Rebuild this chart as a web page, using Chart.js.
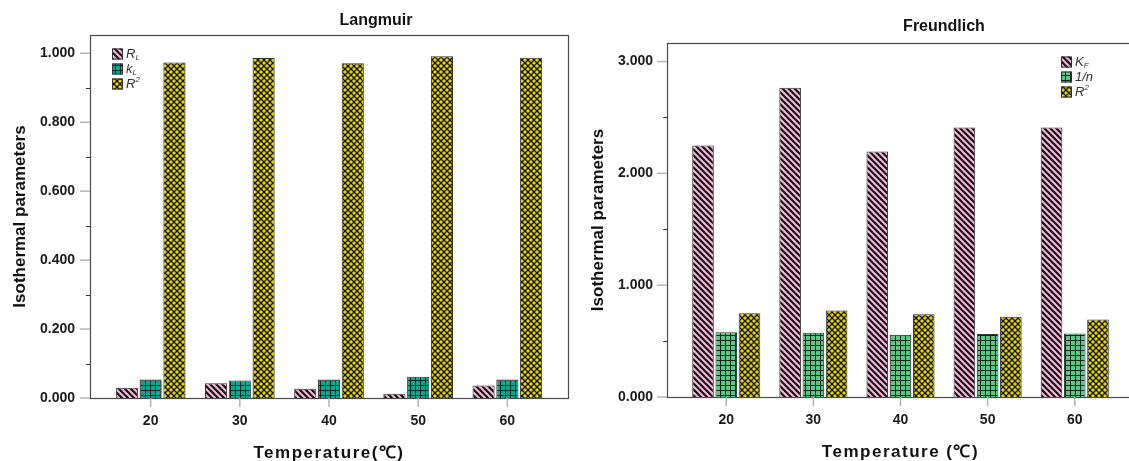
<!DOCTYPE html>
<html>
<head>
<meta charset="utf-8">
<script src="https://cdn.jsdelivr.net/npm/chart.js@4/dist/chart.umd.min.js"></script>
<style>
  html, body { margin: 0; padding: 0; background: #fff; overflow: hidden; width: 1129px; height: 461px; }
  canvas { position: absolute; top: 0; }
  #langmuir { left: 0; }
  #freundlich { left: 580px; }
</style>
</head>
<body>
<canvas id="langmuir" width="580" height="461"></canvas>
<canvas id="freundlich" width="560" height="461"></canvas>
<script>
const temperatures = [20, 30, 40, 50, 60];

// Langmuir
const langmuirRL = [0.030, 0.043, 0.027, 0.012, 0.036];
const langmuirKL = [0.054, 0.051, 0.054, 0.062, 0.054];
const langmuirR2 = [0.973, 0.986, 0.971, 0.991, 0.987];
const langmuirTicks = [0, 0.2, 0.4, 0.6, 0.8, 1.0];
const langmuirMinor = [0.1, 0.3, 0.5, 0.7, 0.9];
const langmuirLabels = [["R", "L", ""], ["k", "L", ""], ["R", "", "2"]];

// Freundlich
const freundlichKF = [2.25, 2.765, 2.196, 2.41, 2.41];
const freundlichN = [0.58, 0.574, 0.556, 0.563, 0.569];
const freundlichR2 = [0.75, 0.774, 0.741, 0.717, 0.694];
const freundlichTicks = [0, 1, 2, 3];
const freundlichMinor = [0.5, 1.5, 2.5];
const freundlichLabels = [["K", "F", ""], ["1/n", "", ""], ["R", "", "2"]];

const FONT = "'Liberation Sans', Arial, sans-serif";

/* ---------- fill patterns ---------- */
function makePattern(bg, kind) {
  const c = document.createElement("canvas");
  const s = kind === "grid" ? 5 : 6;
  c.width = s; c.height = s;
  const g = c.getContext("2d");
  g.fillStyle = bg;
  g.fillRect(0, 0, s, s);
  g.strokeStyle = "#151515";
  if (kind === "diag") {
    g.lineWidth = 2.2;
    for (let k = -1; k <= 1; k++) {
      g.beginPath();
      g.moveTo(k * s - 1, -1);
      g.lineTo(k * s + s + 1, s + 1);
      g.stroke();
    }
  } else if (kind === "grid") {
    g.fillStyle = "#14241b";
    g.fillRect(0, 0, s, 1);
    g.fillRect(0, 0, 1, s);
  } else {
    g.lineWidth = 1.3;
    for (let k = -1; k <= 1; k++) {
      g.beginPath();
      g.moveTo(k * s - 1, -1);
      g.lineTo(k * s + s + 1, s + 1);
      g.moveTo(k * s + s + 1, -1);
      g.lineTo(k * s - 1, s + 1);
      g.stroke();
    }
  }
  return g.createPattern(c, "repeat");
}

const pinkDiag = makePattern("#f5b9d9", "diag");
const tealGrid = makePattern("#00ab94", "grid");
const greenGrid = makePattern("#58c984", "grid");
const yellowCross = makePattern("#e4d400", "cross");

/* ---------- frame, ticks, titles, legend ---------- */
const decor = {
  id: "decor",
  beforeDatasetsDraw(chart, args, o) {
    const { ctx, chartArea: a, scales } = chart;
    const line = (x1, y1, x2, y2) => {
      ctx.beginPath(); ctx.moveTo(x1, y1); ctx.lineTo(x2, y2); ctx.stroke();
    };
    ctx.save();
    ctx.strokeStyle = "#4a4a4a";
    ctx.lineWidth = 1.2;
    ctx.strokeRect(a.left + 0.5, a.top + 0.5, a.right - a.left, a.bottom - a.top);

    ctx.strokeStyle = "#b4b4b4";
    ctx.lineWidth = 1.5;
    scales.y.ticks.forEach((t) => {
      const y = scales.y.getPixelForValue(t.value);
      line(a.left - 10, y, a.left, y);
    });
    scales.x.ticks.forEach((t) => {
      const x = scales.x.getPixelForValue(t.value);
      line(x, a.bottom, x, a.bottom + 9);
    });

    ctx.strokeStyle = "#333";
    ctx.lineWidth = 1;
    o.minor.forEach((v) => {
      const y = Math.round(scales.y.getPixelForValue(v)) + 0.5;
      line(a.left - 4, y, a.left, y);
    });
    ctx.restore();
  },
  afterDraw(chart, args, o) {
    const { ctx, chartArea: a } = chart;
    ctx.save();
    ctx.fillStyle = "#111";
    ctx.textAlign = "center";
    ctx.textBaseline = "middle";

    ctx.font = "bold 16px " + FONT;
    ctx.fillText(o.title, o.titleX, o.titleY);

    ctx.save();
    ctx.translate(o.yTitleX, (a.top + a.bottom) / 2);
    ctx.rotate(-Math.PI / 2);
    ctx.font = "bold 17px " + FONT;
    ctx.fillText("Isothermal parameters", 0, 0);
    ctx.restore();

    ctx.font = "bold 17px " + FONT;
    ctx.letterSpacing = "1.5px";
    ctx.fillText(o.xTitle, (a.left + a.right) / 2, o.xTitleY);
    ctx.letterSpacing = "0px";

    // legend
    const lx = o.legendRight ? a.right - o.legendX : a.left + o.legendX;
    ctx.textAlign = "left";
    chart.data.datasets.forEach((ds, i) => {
      const y = a.top + 19 + i * 15;
      ctx.fillStyle = ds.backgroundColor;
      ctx.fillRect(lx, y - 5.5, 11, 11);
      ctx.strokeStyle = "#333";
      ctx.lineWidth = 1;
      ctx.strokeRect(lx + 0.5, y - 5, 10, 10);
      const [main, sub, sup] = o.labels[i];
      ctx.fillStyle = "#333";
      ctx.font = "italic 13px " + FONT;
      ctx.fillText(main, lx + 14, y);
      const w = ctx.measureText(main).width;
      ctx.font = "italic 8px " + FONT;
      if (sub) ctx.fillText(sub, lx + 14 + w, y + 4);
      if (sup) ctx.fillText(sup, lx + 14 + w, y - 4);
    });
    ctx.restore();
  },
};

function makeChart(id, series, opts) {
  const ctx = document.getElementById(id).getContext("2d");
  return new Chart(ctx, {
    type: "bar",
    data: {
      datasets: series.map((s) => ({
        data: temperatures.map((t, i) => ({ x: t, y: s.values[i] })),
        backgroundColor: s.fill,
        borderColor: "#333",
        borderWidth: 1,
        categoryPercentage: 0.8,
        barPercentage: 0.93,
      })),
    },
    options: {
      responsive: false,
      animation: false,
      layout: { padding: { left: 0, right: opts.padRight, top: opts.padTop, bottom: 0 } },
      scales: {
        x: {
          type: "linear",
          min: 13.2,
          max: 66.8,
          offset: false,
          afterBuildTicks: (s) => { s.ticks = temperatures.map((v) => ({ value: v })); },
          afterFit: (s) => { s.height = opts.xHeight; },
          grid: { display: false, drawTicks: false },
          border: { display: false },
          ticks: {
            padding: 15,
            color: "#1a1a1a",
            font: { family: FONT, size: 14, weight: "bold" },
            callback: (v) => String(v),
          },
        },
        y: {
          min: 0,
          max: opts.yMax,
          afterBuildTicks: (s) => { s.ticks = opts.ticks.map((v) => ({ value: v })); },
          afterFit: (s) => { s.width = opts.yWidth; },
          grid: { display: false, drawTicks: false },
          border: { display: false },
          ticks: {
            padding: opts.yPad,
            color: "#1a1a1a",
            font: { family: FONT, size: 14, weight: "bold" },
            callback: (v) => Number(v).toFixed(3),
          },
        },
      },
      plugins: {
        legend: { display: false },
        tooltip: { enabled: false },
        decor: opts.decor,
      },
    },
    plugins: [decor],
  });
}

makeChart("langmuir", [
  { values: langmuirRL, fill: pinkDiag },
  { values: langmuirKL, fill: tealGrid },
  { values: langmuirR2, fill: yellowCross },
], {
  padRight: 12, padTop: 35, xHeight: 63, yWidth: 90, yPad: 15, yMax: 1.053,
  ticks: langmuirTicks,
  decor: {
    minor: langmuirMinor, labels: langmuirLabels,
    title: "Langmuir", titleX: 376, titleY: 21,
    yTitleX: 20, xTitle: "Temperature(\u2103)", xTitleY: 453,
    legendX: 22, legendRight: false,
  },
});

makeChart("freundlich", [
  { values: freundlichKF, fill: pinkDiag },
  { values: freundlichN, fill: greenGrid },
  { values: freundlichR2, fill: yellowCross },
], {
  padRight: 6, padTop: 43, xHeight: 64, yWidth: 87, yPad: 14, yMax: 3.166,
  ticks: freundlichTicks,
  decor: {
    minor: freundlichMinor, labels: freundlichLabels,
    title: "Freundlich", titleX: 364, titleY: 27,
    yTitleX: 18, xTitle: "Temperature (\u2103)", xTitleY: 452,
    legendX: 73, legendRight: true,
  },
});
</script>
</body>
</html>
